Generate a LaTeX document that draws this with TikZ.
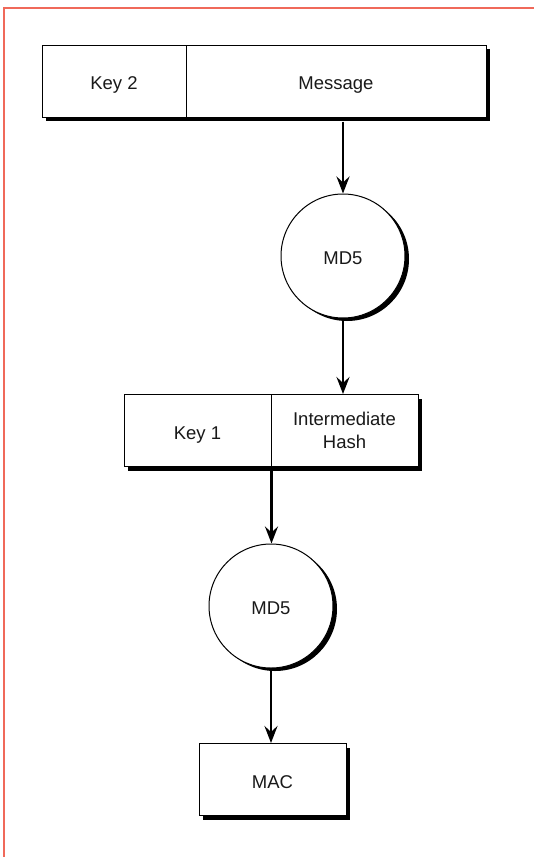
\documentclass[tikz,border=0pt]{standalone}
\usepackage{fontspec}
\setmainfont{Liberation Sans}
\usetikzlibrary{arrows.meta,shadows}
\definecolor{frame}{RGB}{240,105,90}
\definecolor{ink}{RGB}{25,25,25}
\tikzset{
  shad/.style={drop shadow={shadow xshift=4pt,shadow yshift=-4pt,opacity=1,fill=black}},
  cell/.style={draw=black,line width=1pt,fill=white,inner sep=0pt,minimum height=72pt,
    text=ink,font=\fontsize{18.5}{22.5}\selectfont,align=center,shad},
  oneline/.style={text height=17pt,text depth=0pt},
  hash/.style={circle,draw=black,line width=1pt,fill=white,minimum size=124pt,inner sep=0pt,
    text=ink,font=\fontsize{18.5}{22.5}\selectfont,text height=17pt,text depth=0pt,
    drop shadow={shadow xshift=4pt,shadow yshift=-3pt,opacity=1,fill=black}},
  arr/.style={line width=2.8pt,-{Stealth[length=17pt,width=13pt,inset=6pt]}}
}
\begin{document}
\begin{tikzpicture}[x=1pt,y=-1pt]
\useasboundingbox (0,0) rectangle (534,857);
\draw[frame,line width=1.2pt] (4,857) -- (4,8) -- (534,8);
\node[cell,oneline,minimum width=144pt] (key2) at (114,81) {Key 2};
\node[cell,oneline,minimum width=300pt] (msg) at (336,81) {Message};
\node[hash] (md1) at (343,256) {MD5};
\node[cell,oneline,minimum width=147pt] (key1) at (197.5,430.5) {Key 1};
\node[cell,minimum width=147pt] (ih) at (344.5,430.5) {Intermediate\\Hash};
\node[hash] (md2) at (271,606) {MD5};
\node[cell,oneline,minimum width=147pt] (mac) at (272.5,779.5) {MAC};
\draw[arr] ([yshift=-4pt]md1.north |- msg.south) -- (md1.north);
\draw[arr] (md1.south) -- (md1.south |- ih.north);
\draw[arr] ([yshift=-4pt]key1.south east) -- (key1.south east |- md2.north);
\draw[arr] (md2.south) -- (md2.south |- mac.north);
\end{tikzpicture}
\end{document}
